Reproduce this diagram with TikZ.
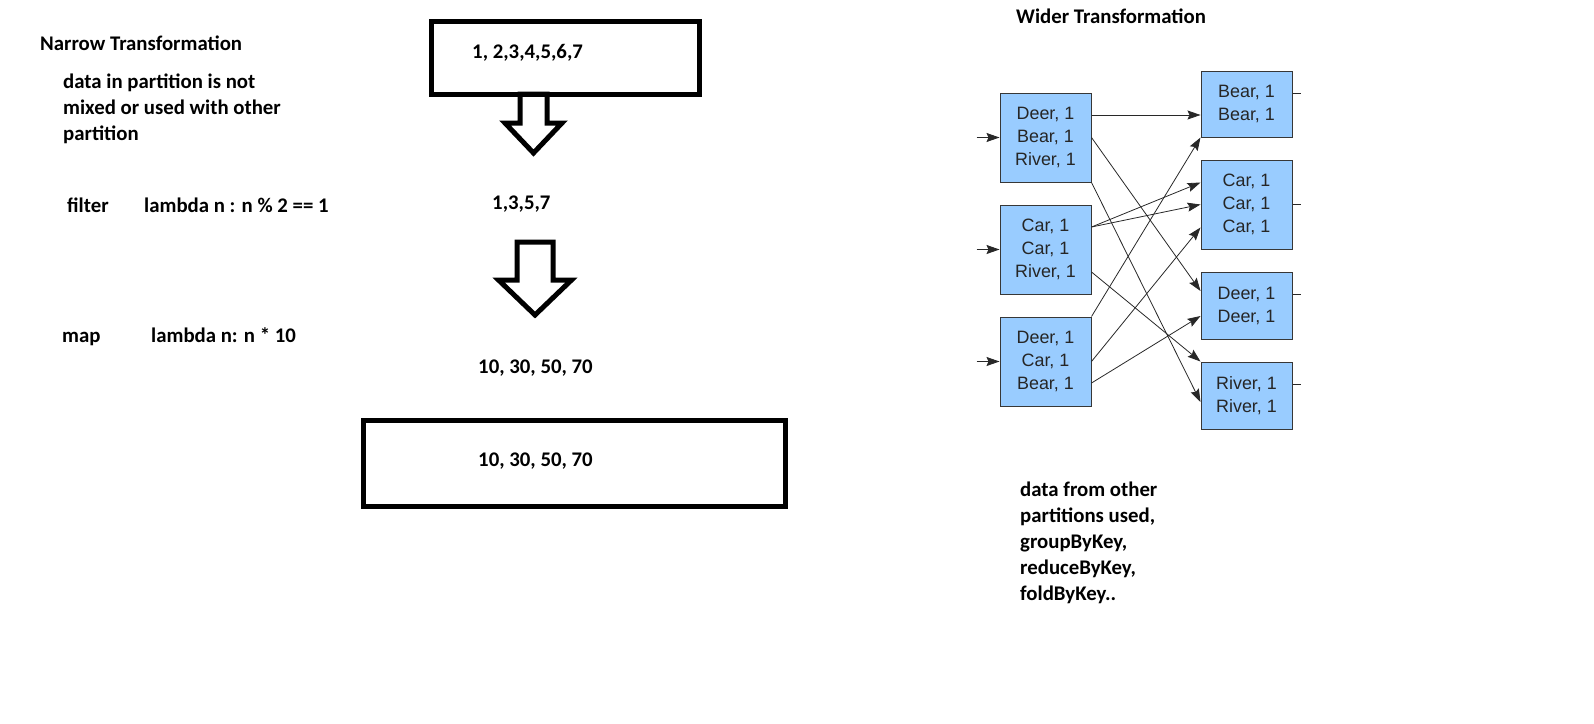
\documentclass[tikz,border=0pt]{standalone}
\usepackage{fontspec}
\setmainfont{Carlito}
\newfontfamily\arialfont{Liberation Sans}
\usepackage{tikz}
\usetikzlibrary{positioning,arrows.meta}
\definecolor{partblue}{RGB}{153,204,255}
\definecolor{partedge}{RGB}{55,55,55}
\definecolor{partline}{RGB}{40,40,40}
% hollow arrow pointing down: centre x, top, head base, tip, half shaft, half head
\newcommand{\hollowdown}[6]{%
    \draw[fatline] (#1-#5,#2) -- (#1-#5,#3) -- (#1-#6,#3) -- (#1,#4)
        -- (#1+#6,#3) -- (#1+#5,#3) -- (#1+#5,#2) -- cycle;%
}

\begin{document}
\begin{tikzpicture}[x=1pt, y=-1pt,
    txt/.style={anchor=base west, inner sep=0pt, font=\bfseries\fontsize{20.8}{26}\selectfont},
    fatline/.style={line width=5pt, line join=miter},
    rawbox/.style={draw, line width=5pt, inner sep=0pt},
    partbox/.style={draw=partedge, fill=partblue, line width=1pt, minimum width=91pt,
        align=center, inner sep=0pt, text=black!85,
        font=\arialfont\fontsize{17.9}{23}\selectfont},
    flow/.style={draw=partline, line width=0.8pt, -{Stealth[length=13pt, width=9pt, inset=2pt]}},
    stub/.style={draw=partline, line width=0.8pt}]
    \useasboundingbox (0,0) rectangle (1594,723);

    % narrow transformation
    \node[txt] (narrow) at (40,50) {Narrow Transformation};
    % base of a multi-line node is its last line
    \node[txt, align=left] (narrownote) at (63,140) {data in partition is not\\mixed or used with other\\partition};
    \node[txt] (filter) at (67,212.5) {filter};
    \node[txt] (filterfn) at (144,212.5) {lambda n : n \% 2 == 1};
    \node[txt] (map) at (62,342) {map};
    \node[txt] (mapfn) at (151,342) {lambda n: n * 10};

    \node[rawbox, minimum width=268pt, minimum height=72.5pt] (src) at (565.5,57.75) {};
    \node[txt] (srcdata) at (472,58) {1, 2,3,4,5,6,7};
    \hollowdown{533.5}{94}{123}{153}{13.5}{28.5}
    \node[txt] (odd) at (492,209) {1,3,5,7};
    \hollowdown{535}{242}{280}{315}{18}{36.5}
    \node[txt] (times) at (478,373) {10, 30, 50, 70};
    \node[rawbox, minimum width=422pt, minimum height=86pt] (res) at (574.5,463.5) {};
    \node[txt] (resdata) at (478,466) {10, 30, 50, 70};

    % wider transformation
    \node[txt] (wider) at (1016,23) {Wider Transformation};

    \node[partbox, minimum height=89pt] (l1) at (1045.5,137.5) {Deer, 1\\Bear, 1\\River, 1};
    \node[partbox, minimum height=89pt, below=22pt of l1] (l2) {Car, 1\\Car, 1\\River, 1};
    \node[partbox, minimum height=89pt, below=22pt of l2] (l3) {Deer, 1\\Car, 1\\Bear, 1};

    \node[partbox, minimum height=66pt] (r1) at (1246.5,104) {Bear, 1\\Bear, 1};
    \node[partbox, minimum height=89pt, below=22pt of r1] (r2) {Car, 1\\Car, 1\\Car, 1};
    \node[partbox, minimum height=67pt, below=22pt of r2] (r3) {Deer, 1\\Deer, 1};
    \node[partbox, minimum height=67pt, below=22pt of r3] (r4) {River, 1\\River, 1};

    \draw[flow] ([xshift=-23pt]l1.west) -- (l1.west);
    \draw[flow] ([xshift=-23pt]l2.west) -- (l2.west);
    \draw[flow] ([xshift=-23pt]l3.west) -- (l3.west);

    \draw[flow] ([yshift=22.5pt]l1.east) -- ([yshift=-11pt]r1.west);
    \draw[flow] (l1.east) -- ([yshift=14.5pt]r3.west);
    \draw[flow] (l1.south east) -- ([yshift=-6.5pt]r4.west);
    \draw[flow] ([yshift=22.5pt]l2.east) -- ([yshift=22pt]r2.west);
    \draw[flow] ([yshift=22.5pt]l2.east) -- (r2.west);
    \draw[flow] ([yshift=-22.5pt]l2.east) -- (r4.north west);
    \draw[flow] (l3.north east) -- (r1.south west);
    \draw[flow] (l3.east) -- ([yshift=-23pt]r2.west);
    \draw[flow] ([yshift=-21.5pt]l3.east) -- ([yshift=-10.5pt]r3.west);

    \draw[stub] ([yshift=11pt]r1.east) -- ++(8,0);
    \draw[stub] (r2.east) -- ++(8,0);
    \draw[stub] ([yshift=11.5pt]r3.east) -- ++(8,0);
    \draw[stub] ([yshift=11.5pt]r4.east) -- ++(8,0);

    \node[txt, align=left] (widernote) at (1020,600) {data from other\\partitions used,\\groupByKey,\\reduceByKey,\\foldByKey..};
\end{tikzpicture}
\end{document}
